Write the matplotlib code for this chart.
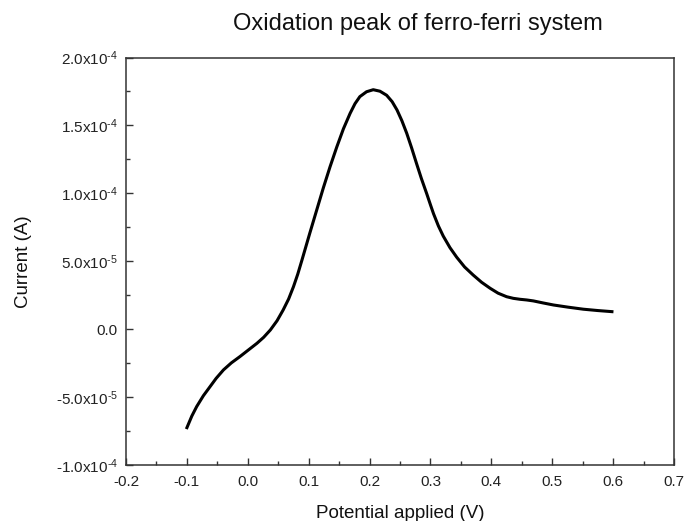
import numpy as np
import matplotlib
matplotlib.use("Agg")
import matplotlib.pyplot as plt
import matplotlib.ticker as ticker

plt.rcParams["font.family"] = ["Liberation Sans", "DejaVu Sans"]
plt.rcParams["mathtext.fontset"] = "custom"
plt.rcParams["mathtext.rm"] = "Liberation Sans"
plt.rcParams["mathtext.it"] = "Liberation Sans"
plt.rcParams["mathtext.bf"] = "Liberation Sans:bold"

# ── Data: anodic sweep of the ferro/ferricyanide couple ────────────────────
potential_v = [-0.100, -0.092, -0.084, -0.073, -0.062, -0.052, -0.040, -0.027,
               -0.013, 0.001, 0.015, 0.026, 0.037, 0.048, 0.058, 0.067,
               0.075, 0.082, 0.089, 0.102, 0.113, 0.124, 0.135, 0.146,
               0.157, 0.168, 0.176, 0.184, 0.195, 0.206, 0.217, 0.228,
               0.237, 0.245, 0.253, 0.261, 0.269, 0.277, 0.285, 0.294,
               0.300, 0.305, 0.313, 0.321, 0.332, 0.343, 0.356, 0.370,
               0.384, 0.398, 0.411, 0.425, 0.436, 0.447, 0.458, 0.469,
               0.485, 0.502, 0.526, 0.551, 0.575, 0.598]
current_e5 = [-7.25, -6.40, -5.70, -4.90, -4.23, -3.62, -3.00, -2.48,
              -2.02, -1.53, -1.04, -0.60, -0.06, 0.62, 1.41, 2.22,
              3.13, 4.05, 5.10, 7.10, 8.75, 10.40, 11.95, 13.40,
              14.75, 15.89, 16.60, 17.12, 17.48, 17.63, 17.52, 17.22,
              16.75, 16.14, 15.35, 14.42, 13.35, 12.21, 11.10, 9.95,
              9.15, 8.50, 7.60, 6.85, 6.00, 5.30, 4.58, 3.99,
              3.45, 3.01, 2.65, 2.39, 2.27, 2.20, 2.15, 2.08,
              1.93, 1.78, 1.62, 1.47, 1.37, 1.29]

x_ticks = [-0.2, -0.1, 0.0, 0.1, 0.2, 0.3, 0.4, 0.5, 0.6, 0.7]
y_ticks = [-1.0e-4, -5.0e-5, 0.0, 5.0e-5, 1.0e-4, 1.5e-4, 2.0e-4]

V = np.asarray(potential_v)
I = np.asarray(current_e5) * 1e-5


def sci_label(val, pos=None):
    if abs(val) < 1e-12:
        return "0.0"
    exp = int(np.floor(np.log10(abs(val))))
    mant = val / 10 ** exp
    return r"%.1fx10$^{\text{-}%d}$" % (mant, abs(exp))


fig = plt.figure(figsize=(6.85, 5.21), dpi=100)
ax = fig.add_axes([0.184, 0.1075, 0.800, 0.7821])

ax.plot(V, I, color="black", linewidth=2.2, solid_joinstyle="round")

ax.set_xlim(-0.2, 0.7)
ax.set_ylim(-1.0e-4, 2.0e-4)
ax.set_xticks(x_ticks)
ax.set_yticks(y_ticks)
ax.xaxis.set_major_formatter(ticker.FormatStrFormatter("%.1f"))
ax.yaxis.set_major_formatter(ticker.FuncFormatter(sci_label))
ax.xaxis.set_minor_locator(ticker.MultipleLocator(0.05))
ax.yaxis.set_minor_locator(ticker.MultipleLocator(2.5e-5))

ax.tick_params(axis="both", which="both", direction="in",
               top=False, right=False, color="#333333", width=1.0)
ax.tick_params(axis="both", which="major", length=5, labelsize=11,
               labelcolor="#222222")
ax.tick_params(axis="x", which="major", pad=7)
ax.tick_params(axis="y", which="major", pad=6)
ax.tick_params(axis="both", which="minor", length=3)

for side in ax.spines.values():
    side.set_color("#333333")
    side.set_linewidth(1.1)

ax.set_xlabel("Potential applied (V)", fontsize=13.5, labelpad=12,
              color="#111111")
ax.set_ylabel("Current (A)", fontsize=13.5, labelpad=17, color="#111111")
# title sits a little right of the axes centre
ax.set_title("Oxidation peak of ferro-ferri system", fontsize=17,
             x=0.532, pad=20, color="#111111")

fig.savefig("out.png", dpi=100)
